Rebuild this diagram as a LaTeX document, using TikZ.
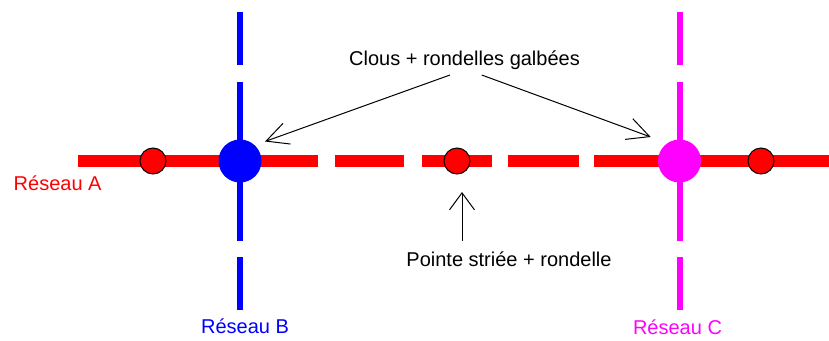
\documentclass[tikz,border=0pt]{standalone}
\usepackage{fontspec}
\setmainfont{Liberation Sans}
\usetikzlibrary{arrows.meta}
\definecolor{magC}{RGB}{255,0,255}
\definecolor{redA}{RGB}{255,0,0}
\definecolor{blueB}{RGB}{0,0,255}
\begin{document}
\begin{tikzpicture}[x=1pt,y=-1pt,
  redline/.style={draw=redA,line width=12.5pt},
  blueline/.style={draw=blueB,line width=6pt},
  magline/.style={draw=magC,line width=6pt},
  nail/.style={circle,draw=black,line width=1pt,fill=redA,minimum size=26pt,inner sep=0pt},
  joint/.style={circle,minimum size=43pt,inner sep=0pt},
  lbl/.style={font=\fontsize{20}{24}\selectfont,inner sep=0pt},
  ptr/.style={draw=black,line width=1pt,-{Straight Barb[length=22pt,width=22pt]}},
  uptr/.style={draw=black,line width=1pt,-{Straight Barb[length=17pt,width=25pt]}}
]
\useasboundingbox (0,0) rectangle (829,340);
% red network A (horizontal)
\draw[redline] (78,161) -- (318,161);
\draw[redline] (335,161) -- (404,161);
\draw[redline] (422,161) -- (492,161);
\draw[redline] (508,161) -- (579,161);
\draw[redline] (594,161) -- (829,161);
% blue network B (vertical)
\draw[blueline] (240,12) -- (240,65);
\draw[blueline] (240,82) -- (240,241);
\draw[blueline] (240,257) -- (240,310);
% magenta network C (vertical)
\draw[magline] (679.5,12) -- (679.5,65);
\draw[magline] (679.5,82) -- (679.5,241);
\draw[magline] (679.5,257) -- (679.5,310);
% nails
\node[nail] (nailL) at (153,161) {};
\node[nail] (nailM) at (457,161) {};
\node[nail] (nailR) at (761,161) {};
\node[joint,fill=blueB] (joinB) at (240,161) {};
\node[joint,fill=magC] (joinC) at (679.5,161) {};
% labels
\node[lbl,anchor=base] (clous) at (464.5,65.7) {Clous + rondelles galbées};
\node[lbl,anchor=base] (pointe) at (509,266) {Pointe striée + rondelle};
\node[lbl,anchor=base west,text=redA] (resA) at (13.5,190) {Réseau A};
\node[lbl,anchor=base,text=blueB] (resB) at (245,333) {Réseau B};
\node[lbl,anchor=base,text=magC] (resC) at (677.5,334) {Réseau C};
% arrows
\coordinate (c1) at (450,75);
\coordinate (c2) at (481.7,75);
\coordinate (tB) at (265,141.5);
\coordinate (tC) at (650.7,137);
\coordinate (p1) at (462,241);
\coordinate (tM) at (462,192);
\draw[ptr] (c1) -- (tB);
\draw[ptr] (c2) -- (tC);
\draw[uptr] (p1) -- (tM);
\end{tikzpicture}
\end{document}
